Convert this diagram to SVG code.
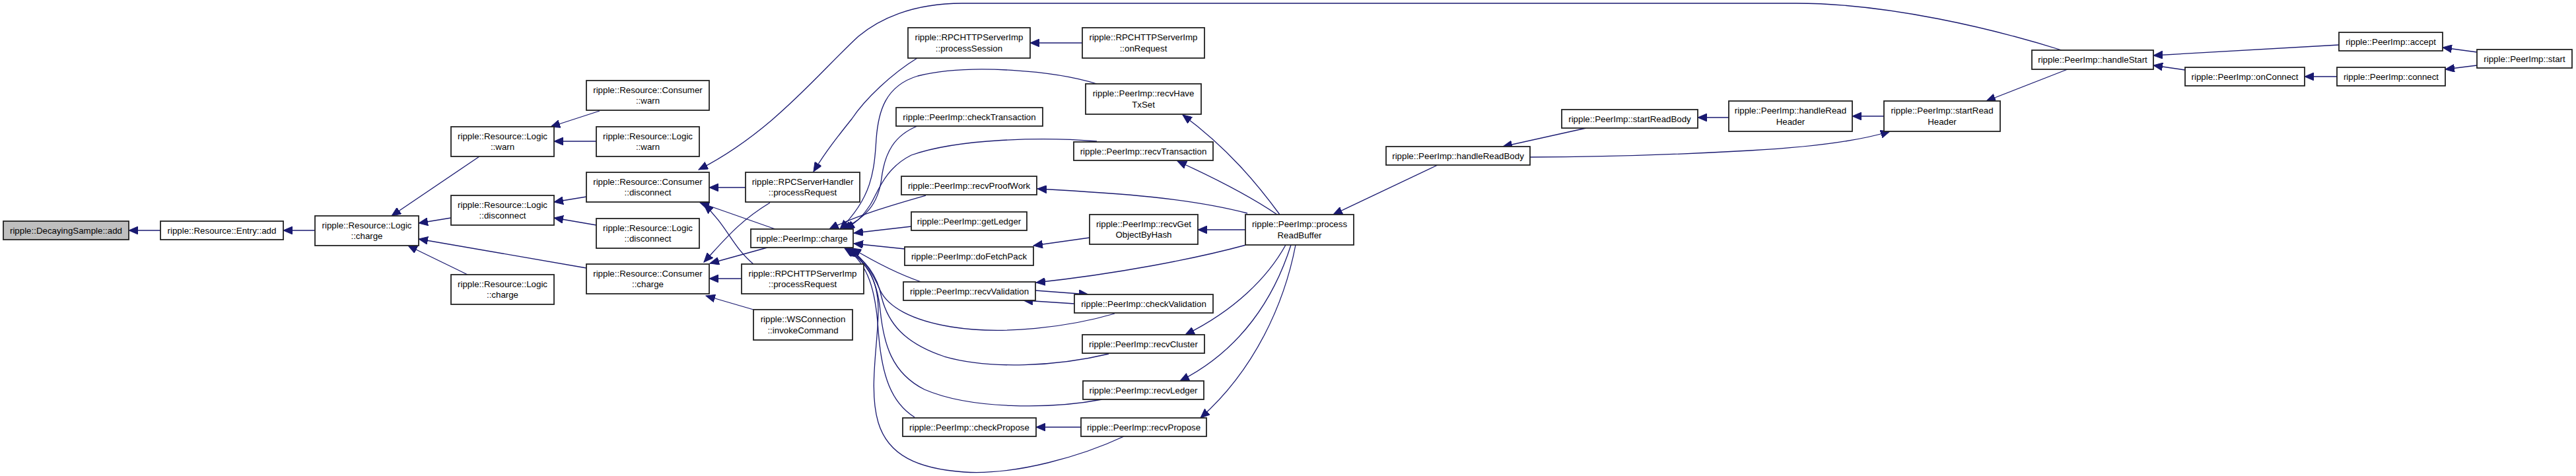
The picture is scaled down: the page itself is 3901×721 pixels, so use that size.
<svg xmlns="http://www.w3.org/2000/svg" width="3901" height="721" viewBox="0 0 3901 721">
<style>
.n rect{fill:#fff;stroke:#222;stroke-width:1.8}
.n.g rect{fill:#bfbfbf}
.n text{font-family:"Liberation Sans",Arial,sans-serif;font-size:13.3px;fill:#000;text-anchor:middle}
#edges path{fill:none;stroke:#191970;stroke-width:1.3;marker-end:url(#ah)}
</style>
<defs>
<marker id="ah" markerUnits="userSpaceOnUse" markerWidth="15" markerHeight="12" refX="14" refY="6" orient="auto" viewBox="0 0 15 12">
<path d="M0,0 L14,6 L0,12 z" fill="#191970" stroke="#191970" stroke-width="1"/>
</marker>
</defs>
<rect width="3901" height="721" fill="#fff"/>
<g id="edges">
<path d="M243,349 L195,349"/>
<path d="M477,349 L429,349"/>
<path d="M726,237 L593,327"/>
<path d="M683,330 L634,338"/>
<path d="M888,406 L634,362"/>
<path d="M708,416 C680,402 650,388 618,372"/>
<path d="M908,168 L834,192"/>
<path d="M903,214 L839,214"/>
<path d="M888,298 L839,306"/>
<path d="M903,341 L839,330"/>
<path d="M1129,284 L1074,284"/>
<path d="M3122,76 C3020,44 2860,5 2720,5 L1457,5 C1380,5 1330,30 1300,55 C1240,110 1170,200 1058,257"/>
<path d="M1174,347 L1060,307"/>
<path d="M1141,400 C1110,375 1100,340 1066,310"/>
<path d="M1166,307 C1120,335 1100,360 1066,397"/>
<path d="M1162,375 L1075,399"/>
<path d="M1123,422 L1074,422"/>
<path d="M1141,469 L1069,448"/>
<path d="M1389,88 C1350,112 1310,150 1290,180 C1270,205 1250,230 1232,260"/>
<path d="M1639,65 L1560,65"/>
<path d="M1661,127 C1600,108 1470,95 1390,115 C1340,130 1330,170 1327,210 C1324,260 1320,300 1272,347"/>
<path d="M1389,191 C1355,205 1340,230 1335,270 C1330,310 1310,330 1276,347"/>
<path d="M1661,214 C1580,207 1450,210 1380,235 C1340,255 1330,290 1318,310 C1305,330 1295,338 1280,347"/>
<path d="M1402,296 C1360,308 1300,325 1256,347"/>
<path d="M1380,343 L1293,353"/>
<path d="M1370,377 L1293,369"/>
<path d="M1395,427 C1360,415 1330,400 1290,376"/>
<path d="M1688,475 C1620,495 1520,508 1440,495 C1380,485 1345,465 1333,440 C1322,415 1310,395 1287,376"/>
<path d="M1679,536 C1600,555 1500,560 1430,540 C1370,520 1345,490 1335,450 C1328,415 1310,395 1285,376"/>
<path d="M1669,605 C1590,620 1470,620 1400,590 C1350,565 1338,520 1333,470 C1328,420 1310,395 1283,376"/>
<path d="M1385,632 C1350,610 1335,570 1330,500 C1326,440 1315,400 1281,376"/>
<path d="M1702,661 C1640,690 1540,720 1460,715 C1390,710 1345,690 1330,640 C1315,590 1330,520 1330,470 C1330,420 1310,395 1279,376"/>
<path d="M1938,325 C1905,280 1860,225 1791,174"/>
<path d="M1934,325 C1890,295 1840,270 1783,244"/>
<path d="M1889,323 C1800,300 1700,293 1571,286"/>
<path d="M1886,348 L1814,348"/>
<path d="M1650,360 L1565,372"/>
<path d="M1887,371 C1810,392 1690,415 1569,428"/>
<path d="M1568,440 L1648,446"/>
<path d="M1627,460 L1550,455"/>
<path d="M1947,371 C1920,420 1870,470 1795,507"/>
<path d="M1955,371 C1930,450 1880,530 1787,577"/>
<path d="M1962,371 C1945,460 1900,560 1818,633"/>
<path d="M1637,647 L1569,647"/>
<path d="M2177,250 L2019,325"/>
<path d="M2402,194 L2276,222"/>
<path d="M2618,178 L2571,178"/>
<path d="M2853,176 L2805,176"/>
<path d="M2317,238 C2450,238 2560,233 2650,228 C2760,222 2820,212 2862,199"/>
<path d="M3131,105 L3008,153"/>
<path d="M3542,68 L3261,84"/>
<path d="M3309,106 L3261,99"/>
<path d="M3539,116 L3490,116"/>
<path d="M3751,79 L3699,72"/>
<path d="M3751,99 L3703,105"/>
</g>
<g id="n_decay" class="n g"><rect x="5" y="335" width="190" height="28"/><text x="100" y="353.5">ripple::DecayingSample::add</text></g>
<g id="n_entry" class="n"><rect x="243" y="335" width="186" height="28"/><text x="336" y="353.5">ripple::Resource::Entry::add</text></g>
<g id="n_lcharge1" class="n"><rect x="477" y="327" width="157" height="45"/><text x="555.5" y="345.7">ripple::Resource::Logic</text><text x="555.5" y="362.3">::charge</text></g>
<g id="n_lwarn1" class="n"><rect x="683" y="192" width="156" height="45"/><text x="761" y="210.7">ripple::Resource::Logic</text><text x="761" y="227.3">::warn</text></g>
<g id="n_ldisc1" class="n"><rect x="683" y="296" width="156" height="45"/><text x="761" y="314.7">ripple::Resource::Logic</text><text x="761" y="331.3">::disconnect</text></g>
<g id="n_lcharge2" class="n"><rect x="683" y="416" width="156" height="45"/><text x="761" y="434.7">ripple::Resource::Logic</text><text x="761" y="451.3">::charge</text></g>
<g id="n_cwarn" class="n"><rect x="888" y="122" width="186" height="45"/><text x="981" y="140.7">ripple::Resource::Consumer</text><text x="981" y="157.3">::warn</text></g>
<g id="n_lwarn2" class="n"><rect x="903" y="192" width="156" height="45"/><text x="981" y="210.7">ripple::Resource::Logic</text><text x="981" y="227.3">::warn</text></g>
<g id="n_cdisc" class="n"><rect x="888" y="261" width="186" height="45"/><text x="981" y="279.7">ripple::Resource::Consumer</text><text x="981" y="296.3">::disconnect</text></g>
<g id="n_ldisc2" class="n"><rect x="903" y="331" width="156" height="45"/><text x="981" y="349.7">ripple::Resource::Logic</text><text x="981" y="366.3">::disconnect</text></g>
<g id="n_ccharge" class="n"><rect x="888" y="400" width="186" height="45"/><text x="981" y="418.7">ripple::Resource::Consumer</text><text x="981" y="435.3">::charge</text></g>
<g id="n_rpcsh" class="n"><rect x="1129" y="261" width="173" height="45"/><text x="1215.5" y="279.7">ripple::RPCServerHandler</text><text x="1215.5" y="296.3">::processRequest</text></g>
<g id="n_pcharge" class="n"><rect x="1137" y="347" width="155" height="28"/><text x="1214.5" y="365.5">ripple::PeerImp::charge</text></g>
<g id="n_rpchttp" class="n"><rect x="1123" y="400" width="185" height="45"/><text x="1215.5" y="418.7">ripple::RPCHTTPServerImp</text><text x="1215.5" y="435.3">::processRequest</text></g>
<g id="n_ws" class="n"><rect x="1141" y="469" width="150" height="46"/><text x="1216" y="488.2">ripple::WSConnection</text><text x="1216" y="504.8">::invokeCommand</text></g>
<g id="n_psess" class="n"><rect x="1375" y="42" width="185" height="46"/><text x="1467.5" y="61.2">ripple::RPCHTTPServerImp</text><text x="1467.5" y="77.8">::processSession</text></g>
<g id="n_onreq" class="n"><rect x="1639" y="42" width="185" height="46"/><text x="1731.5" y="61.2">ripple::RPCHTTPServerImp</text><text x="1731.5" y="77.8">::onRequest</text></g>
<g id="n_havetx" class="n"><rect x="1644" y="127" width="175" height="46"/><text x="1731.5" y="146.2">ripple::PeerImp::recvHave</text><text x="1731.5" y="162.8">TxSet</text></g>
<g id="n_checktx" class="n"><rect x="1357" y="163" width="222" height="28"/><text x="1468" y="181.5">ripple::PeerImp::checkTransaction</text></g>
<g id="n_recvtx" class="n"><rect x="1626" y="215" width="211" height="28"/><text x="1731.5" y="233.5">ripple::PeerImp::recvTransaction</text></g>
<g id="n_proof" class="n"><rect x="1365" y="267" width="205" height="28"/><text x="1467.5" y="285.5">ripple::PeerImp::recvProofWork</text></g>
<g id="n_getledger" class="n"><rect x="1380" y="321" width="175" height="28"/><text x="1467.5" y="339.5">ripple::PeerImp::getLedger</text></g>
<g id="n_getobj" class="n"><rect x="1650" y="325" width="164" height="45"/><text x="1732" y="343.7">ripple::PeerImp::recvGet</text><text x="1732" y="360.3">ObjectByHash</text></g>
<g id="n_prb" class="n"><rect x="1886" y="325" width="164" height="46"/><text x="1968" y="344.2">ripple::PeerImp::process</text><text x="1968" y="360.8">ReadBuffer</text></g>
<g id="n_fetch" class="n"><rect x="1370" y="374" width="195" height="28"/><text x="1467.5" y="392.5">ripple::PeerImp::doFetchPack</text></g>
<g id="n_recvval" class="n"><rect x="1368" y="427" width="200" height="28"/><text x="1468" y="445.5">ripple::PeerImp::recvValidation</text></g>
<g id="n_checkval" class="n"><rect x="1627" y="446" width="210" height="28"/><text x="1732" y="464.5">ripple::PeerImp::checkValidation</text></g>
<g id="n_cluster" class="n"><rect x="1639" y="507" width="185" height="28"/><text x="1731.5" y="525.5">ripple::PeerImp::recvCluster</text></g>
<g id="n_recvledger" class="n"><rect x="1640" y="577" width="183" height="28"/><text x="1731.5" y="595.5">ripple::PeerImp::recvLedger</text></g>
<g id="n_checkprop" class="n"><rect x="1367" y="633" width="202" height="28"/><text x="1468" y="651.5">ripple::PeerImp::checkPropose</text></g>
<g id="n_recvprop" class="n"><rect x="1637" y="633" width="190" height="28"/><text x="1732" y="651.5">ripple::PeerImp::recvPropose</text></g>
<g id="n_hrb" class="n"><rect x="2099" y="222" width="218" height="28"/><text x="2208" y="240.5">ripple::PeerImp::handleReadBody</text></g>
<g id="n_srb" class="n"><rect x="2365" y="166" width="206" height="28"/><text x="2468" y="184.5">ripple::PeerImp::startReadBody</text></g>
<g id="n_hrh" class="n"><rect x="2618" y="153" width="187" height="46"/><text x="2711.5" y="172.2">ripple::PeerImp::handleRead</text><text x="2711.5" y="188.8">Header</text></g>
<g id="n_srh" class="n"><rect x="2853" y="153" width="176" height="46"/><text x="2941" y="172.2">ripple::PeerImp::startRead</text><text x="2941" y="188.8">Header</text></g>
<g id="n_hstart" class="n"><rect x="3077" y="76" width="184" height="29"/><text x="3169" y="95">ripple::PeerImp::handleStart</text></g>
<g id="n_accept" class="n"><rect x="3542" y="49" width="157" height="28"/><text x="3620.5" y="67.5">ripple::PeerImp::accept</text></g>
<g id="n_onconn" class="n"><rect x="3309" y="102" width="181" height="28"/><text x="3399.5" y="120.5">ripple::PeerImp::onConnect</text></g>
<g id="n_connect" class="n"><rect x="3539" y="102" width="164" height="28"/><text x="3621" y="120.5">ripple::PeerImp::connect</text></g>
<g id="n_start" class="n"><rect x="3751" y="75" width="144" height="28"/><text x="3823" y="93.5">ripple::PeerImp::start</text></g>
</svg>
